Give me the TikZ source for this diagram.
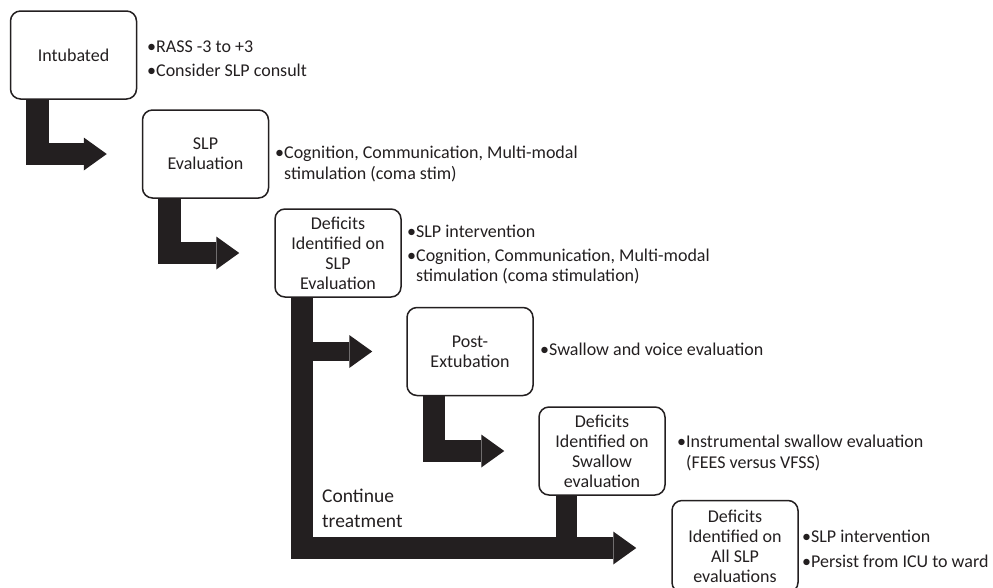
\documentclass[tikz,border=0pt]{standalone}
\usepackage{fontspec}
\setmainfont{Carlito}
\usetikzlibrary{arrows.meta}
\definecolor{ink}{HTML}{231F20}
\begin{document}
\begin{tikzpicture}[x=1pt,y=-1pt,
  box/.style={draw=ink, line width=1.5pt, rounded corners=10pt, minimum width=126pt, minimum height=88pt, align=center, inner sep=2pt, font=\fontsize{18}{20}\selectfont, text=ink},
  note/.style={anchor=north west, inner sep=0pt, align=left, font=\fontsize{18}{20.5}\selectfont, text=ink},
  fat/.style={draw=ink, line width=22.5pt, line join=miter, -{Triangle[length=23pt,width=33pt,line width=0pt]}},
  bar/.style={draw=ink, line width=21pt},
]
\useasboundingbox (0,0) rectangle (993,587);
\node[box] (b1) at (73.5,55) {Intubated};
\node[box] (b2) at (205.5,154) {SLP\\Evaluation};
\node[box] (b3) at (338,253) {Deficits\\Identified on\\SLP\\Evaluation};
\node[box] (b4) at (470,351.5) {Post-\\Extubation};
\node[box] (b5) at (602,451) {Deficits\\Identified on\\Swallow\\evaluation};
\node[box, minimum height=92pt] (b6) at (735,546.5) {Deficits\\Identified on\\All SLP\\evaluations};

\node[note] (n1) at (147,41) {\textbullet RASS -3 to +3\\[3.5pt]\textbullet Consider SLP consult};
\node[note] (n2) at (275,146) {\textbullet Cognition, Communication, Multi-modal\\\phantom{\textbullet}stimulation (coma stim)};
\node[note] (n3) at (407,225) {\textbullet SLP intervention\\[3pt]\textbullet Cognition, Communication, Multi-modal\\\phantom{\textbullet}stimulation (coma stimulation)};
\node[note] (n4) at (540,343) {\textbullet Swallow and voice evaluation};
\node[note] (n5) at (677,435) {\textbullet Instrumental swallow evaluation\\\phantom{\textbullet}(FEES versus VFSS)};
\node[note] (n6) at (802,530) {\textbullet SLP intervention\\[4.5pt]\textbullet Persist from ICU to ward};
\node[note, font=\fontsize{19.5}{25}\selectfont] (ct) at (322,489) {Continue\\treatment};

\coordinate (v1) at ([xshift=-36pt]b1.south);
\coordinate (v2) at ([xshift=-36pt]b2.south);
\coordinate (v3) at ([xshift=-36pt]b3.south);
\coordinate (v4) at ([xshift=-36pt]b4.south);
\coordinate (v5) at ([xshift=-36pt]b5.south);
\coordinate (t2) at ([xshift=-35pt]b2.west);
\coordinate (t3) at ([xshift=-35pt]b3.west);
\coordinate (t4) at ([xshift=-34pt]b4.west);
\coordinate (t5) at ([xshift=-34pt]b5.west);
\coordinate (t6) at ([xshift=-35pt,yshift=-1.5pt]b6.west);

\draw[fat] (v1) |- (t2);
\draw[fat] (v2) |- (t3);
\draw[fat] (v3) |- (t6);
\draw[fat, line width=19pt] (v3 |- t4) -- (t4);
\draw[fat] (v4) |- (t5);
\draw[bar] (v5) -- (v5 |- t6);
\end{tikzpicture}
\end{document}
